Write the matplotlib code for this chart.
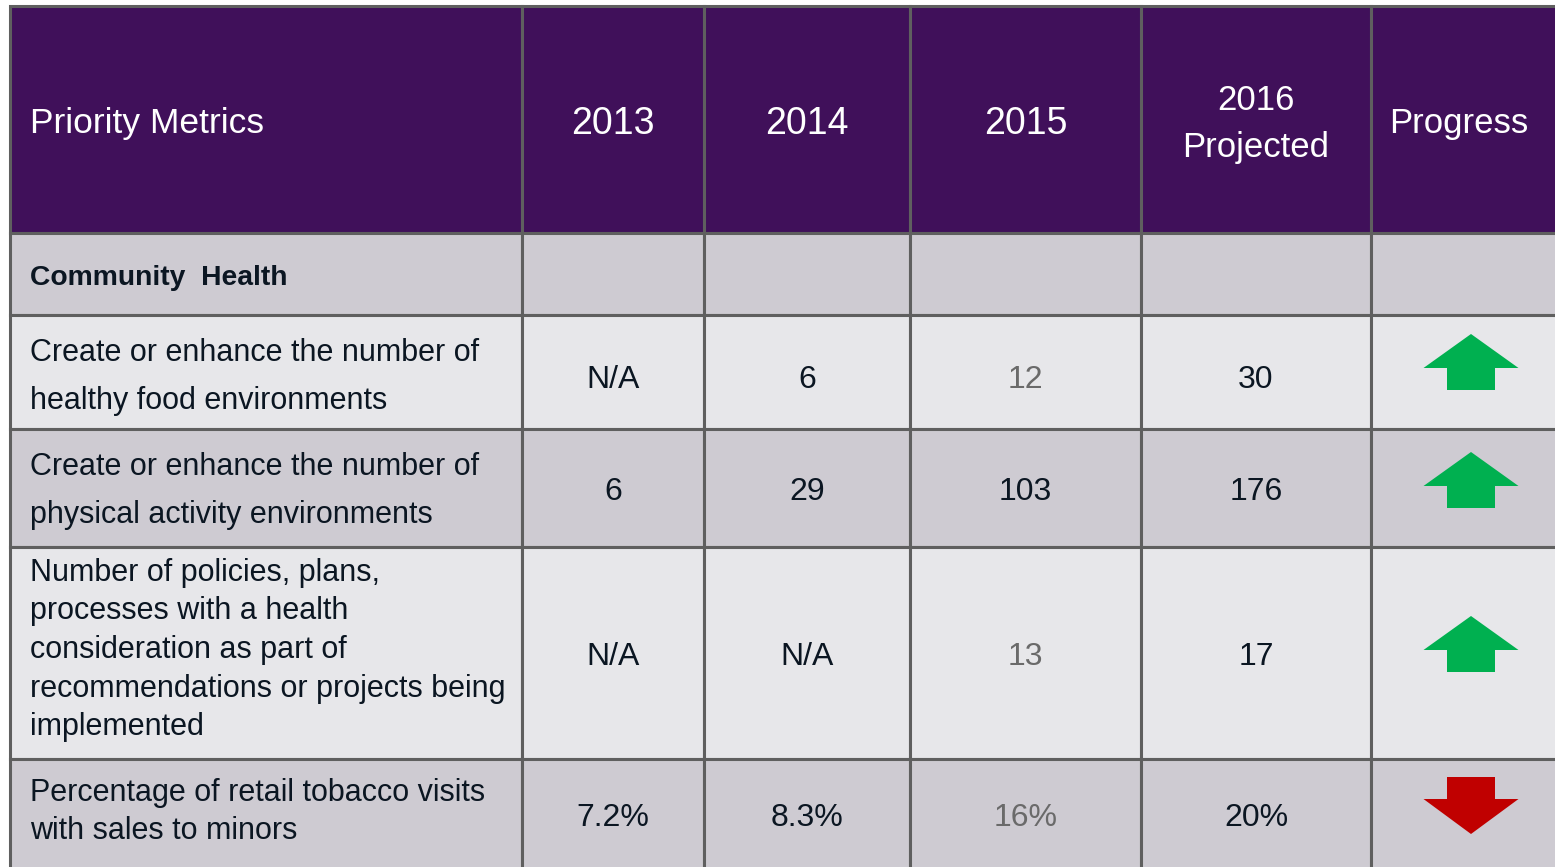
import matplotlib.pyplot as plt
from matplotlib.patches import Rectangle, Polygon

plt.rcParams['font.family'] = ['Liberation Sans', 'DejaVu Sans']

# Table content
headers = ['Priority Metrics', '2013', '2014', '2015', '2016\nProjected', 'Progress']
section = 'Community  Health'
metrics = [
    'Create or enhance the number of\nhealthy food environments',
    'Create or enhance the number of\nphysical activity environments',
    'Number of policies, plans,\nprocesses with a health\nconsideration as part of\n'
    'recommendations or projects being\nimplemented',
    'Percentage of retail tobacco visits\nwith sales to minors',
]
v2013 = ['N/A', '6', 'N/A', '7.2%']
v2014 = ['6', '29', 'N/A', '8.3%']
v2015 = ['12', '103', '13', '16%']
v2016 = ['30', '176', '17', '20%']
progress = ['up', 'up', 'up', 'down']
# 2015 values shown in grey in the source slide
grey_2015 = [True, False, True, True]

# Layout (pixels)
W, H = 1555, 867
col_edges = [10, 522, 704, 910, 1141, 1371, 1600]
row_edges = [6, 233, 315, 429, 547, 759, 900]
label_y = [377, 491, 650, 812]
label_spacing = [1.78, 1.78, 1.37, 1.33]
value_y = [380, 492, 657, 818]
arrow_top = [334, 452, 616, 777]

purple = '#40105a'
dark = '#cecbd2'
light = '#e7e7ea'
line = '#5f5f5f'
ink = '#0b1622'
green = '#00b050'
red = '#c00000'

fig = plt.figure(figsize=(W / 100, H / 100), dpi=100)
ax = fig.add_axes([0, 0, 1, 1])
ax.set_xlim(0, W)
ax.set_ylim(H, 0)
ax.axis('off')

fills = [purple, dark, light, dark, light, dark]
for r in range(len(row_edges) - 1):
    y0, y1 = row_edges[r], row_edges[r + 1]
    for c in range(len(col_edges) - 1):
        x0, x1 = col_edges[c], col_edges[c + 1]
        ax.add_patch(Rectangle((x0, y0), x1 - x0, y1 - y0, facecolor=fills[r],
                               edgecolor=line, linewidth=2.2))

def cx(c):
    return (col_edges[c] + min(col_edges[c + 1], W)) / 2

# header
hy = 124
for c, h in enumerate(headers):
    if c == 0:
        ax.text(30, hy, h, color='white', fontsize=25.5, ha='left', va='center')
    elif c == 5:
        ax.text(1459, hy, h, color='white', fontsize=25, ha='center', va='center')
    elif '\n' in h:
        ax.text(cx(c), hy, h, color='white', fontsize=25, ha='center', va='center',
                linespacing=1.5)
    else:
        ax.text(cx(c), hy, h, color='white', fontsize=27, ha='center', va='center')

ax.text(30, 278, section, color=ink, fontsize=20.3, fontweight='bold',
        ha='left', va='center')

for i in range(len(metrics)):
    ax.text(30, label_y[i], metrics[i], color=ink, fontsize=22, ha='left',
            va='center', linespacing=label_spacing[i])
    for c, vals in enumerate([v2013, v2014, v2015, v2016], start=1):
        col = '#6a6a6a' if (c == 3 and grey_2015[i]) else ink
        ax.text(cx(c), value_y[i], vals[i], color=col, fontsize=23, ha='center',
                va='center')

    # progress arrow
    xc = 1471
    hw, sw, hh, sh = 47.5, 24, 34, 22
    top = arrow_top[i]
    if progress[i] == 'up':
        pts = [(xc, top), (xc + hw, top + hh), (xc + sw, top + hh),
               (xc + sw, top + hh + sh), (xc - sw, top + hh + sh),
               (xc - sw, top + hh), (xc - hw, top + hh)]
        ax.add_patch(Polygon(pts, closed=True, facecolor=green, edgecolor='none'))
    else:
        pts = [(xc - sw, top), (xc + sw, top), (xc + sw, top + sh),
               (xc + hw, top + sh), (xc, top + sh + hh + 1),
               (xc - hw, top + sh), (xc - sw, top + sh)]
        ax.add_patch(Polygon(pts, closed=True, facecolor=red, edgecolor='none'))

fig.savefig('out.png', dpi=100, facecolor='white')
